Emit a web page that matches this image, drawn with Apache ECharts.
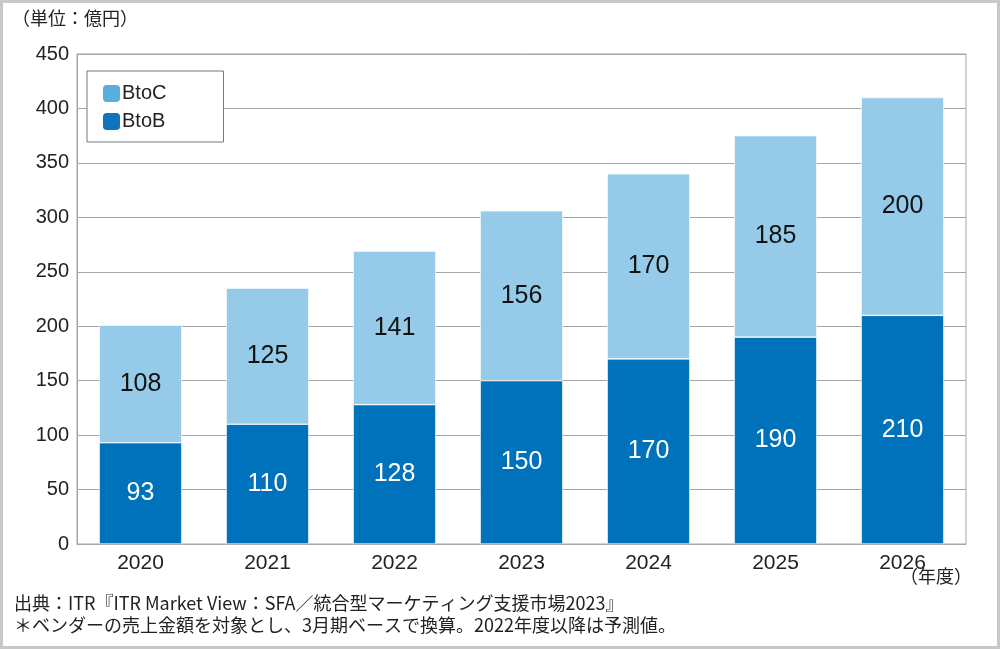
<!DOCTYPE html>
<html><head><meta charset="utf-8">
<script src="https://cdn.jsdelivr.net/npm/echarts@6/dist/echarts.min.js"></script>
<style>html,body{margin:0;padding:0;background:#fff}#c{width:1000px;height:649px}</style>
</head><body><div id="c"></div>
<script>
const years = ['2020','2021','2022','2023','2024','2025','2026'];
const btob = [93,110,128,150,170,190,210];
const btoc = [108,125,141,156,170,185,200];
const yTicks = [0,50,100,150,200,250,300,350,400,450];

const chart = echarts.init(document.getElementById('c'));
const numFont = '"Liberation Sans", Arial, sans-serif';
const jpFont = '"Noto Sans CJK JP", sans-serif';
chart.setOption({
  animation:false,
  backgroundColor:'#fff',
  grid:{left:77,right:34,top:54,bottom:105,show:true,borderColor:'#a6a6a6',borderWidth:1},
  legend:{
    left:87, top:71, orient:'vertical',
    padding:[12,57,10,14],
    backgroundColor:'#fff', borderColor:'#777', borderWidth:1,
    itemWidth:19, itemHeight:19, itemGap:7,
    textStyle:{fontFamily:numFont,fontSize:20,color:'#222',padding:[0,0,0,-4]},
    data:[{name:'BtoC',itemStyle:{color:'#5aaedc'}},{name:'BtoB',itemStyle:{color:'#0e74bc'}}]
  },
  xAxis:{type:'category',data:years,
    axisLine:{lineStyle:{color:'#a6a6a6'}},axisTick:{show:false},
    axisLabel:{fontFamily:numFont,fontSize:21,color:'#222',margin:9}},
  yAxis:{type:'value',min:0,max:450,interval:50,
    axisLine:{show:true,lineStyle:{color:'#a6a6a6'}},
    splitLine:{lineStyle:{color:'#a6a6a6'}},
    axisLabel:{fontFamily:numFont,fontSize:20,color:'#222',margin:8,
      formatter:v=>yTicks.includes(v)?String(v):''}},
  series:[
    {name:'BtoB',type:'bar',stack:'t',data:btob,barWidth:'65%',
      itemStyle:{color:'#0071bb',borderColor:'#fff',borderWidth:0.6},
      label:{show:true,position:'inside',color:'#fff',fontFamily:numFont,fontSize:25}},
    {name:'BtoC',type:'bar',stack:'t',data:btoc,barWidth:'65%',
      itemStyle:{color:'#95cbe8',borderColor:'#fff',borderWidth:0.6},
      label:{show:true,position:'inside',color:'#111',fontFamily:numFont,fontSize:25}}
  ],
  graphic:[
    {type:'rect',shape:{x:1.5,y:1.5,width:997,height:646},style:{fill:'none',stroke:'#c8c8c8',lineWidth:3},silent:true},
    {type:'text',left:12,top:9,style:{text:'（単位：億円）',font:'18px '+jpFont,fill:'#222'}},
    {type:'text',left:900,top:567,style:{text:'（年度）',font:'18px '+jpFont,fill:'#222'}},
    {type:'text',left:14,top:594,style:{text:'出典：ITR『ITR Market View：SFA／統合型マーケティング支援市場2023』',font:'18px '+jpFont,fill:'#222'}},
    {type:'text',left:14,top:616,style:{text:'＊ベンダーの売上金額を対象とし、3月期ベースで換算。2022年度以降は予測値。',font:'18px '+jpFont,fill:'#222'}}
  ]
});
</script></body></html>
